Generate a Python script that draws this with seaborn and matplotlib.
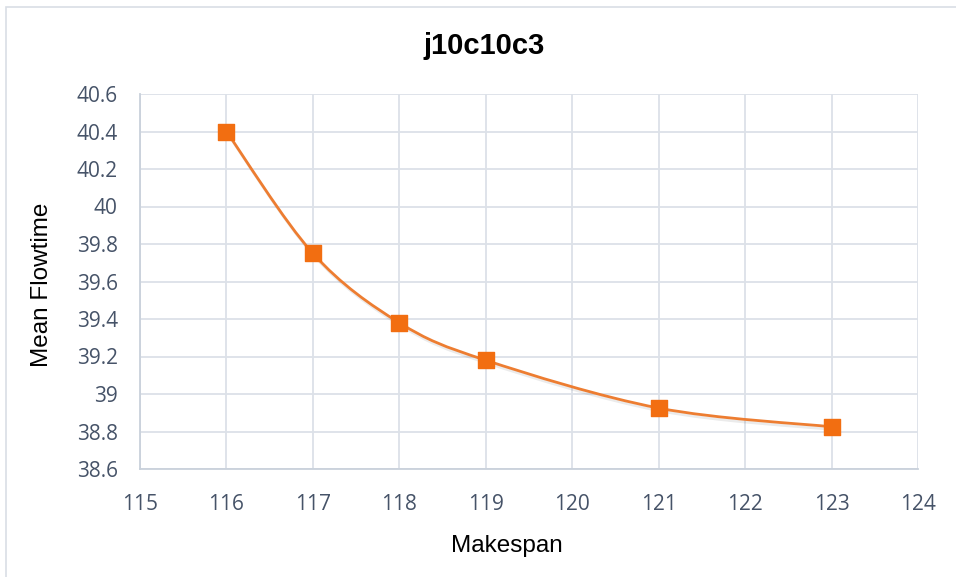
import numpy as np
import pandas as pd
import matplotlib
matplotlib.use("Agg")
import matplotlib.pyplot as plt
from matplotlib.path import Path
from matplotlib.patches import PathPatch, Rectangle
import matplotlib.patheffects as pe
import seaborn as sns

# Series data
makespan = [116, 117, 118, 119, 121, 123]
mean_flowtime = [40.40, 39.75, 39.38, 39.18, 38.925, 38.825]

x_ticks = [115, 116, 117, 118, 119, 120, 121, 122, 123, 124]
y_ticks = [38.6, 38.8, 39.0, 39.2, 39.4, 39.6, 39.8, 40.0, 40.2, 40.4, 40.6]
y_tick_labels = ["38.6", "38.8", "39", "39.2", "39.4", "39.6", "39.8", "40", "40.2", "40.4", "40.6"]

title = "j10c10c3"
x_label = "Makespan"
y_label = "Mean Flowtime"

df = pd.DataFrame({"Makespan": makespan, "Mean Flowtime": mean_flowtime})

sns.set_theme(style="white")
plt.rcParams["font.family"] = ["Liberation Sans", "DejaVu Sans"]

line_color = "#ED7D31"
marker_color = "#F26E11"
tick_color = "#465368"
grid_color = "#DCE1E8"

fig = plt.figure(figsize=(9.56, 5.77), dpi=100)
fig.patch.set_facecolor("white")

# chart frame
fig.patches.append(Rectangle((6 / 956, -0.05), 1.2, 1 - 7 / 577 + 0.05,
                             transform=fig.transFigure, fill=False,
                             edgecolor="#D9DEE5", linewidth=1.2, zorder=0))

ax = fig.add_axes([140 / 956, 1 - 469 / 577, (918 - 140) / 956, (469 - 94) / 577])

# Smoothed connector (cardinal Bezier through the points)
xs = np.array(makespan, dtype=float)
ys = np.array(mean_flowtime, dtype=float)
n = len(xs)
verts = [(xs[0], ys[0])]
codes = [Path.MOVETO]
t = 1 / 6
for i in range(n - 1):
    p0 = (xs[max(i - 1, 0)], ys[max(i - 1, 0)])
    p1 = (xs[i], ys[i])
    p2 = (xs[i + 1], ys[i + 1])
    p3 = (xs[min(i + 2, n - 1)], ys[min(i + 2, n - 1)])
    c1 = (p1[0] + (p2[0] - p0[0]) * t, p1[1] + (p2[1] - p0[1]) * t)
    c2 = (p2[0] - (p3[0] - p1[0]) * t, p2[1] - (p3[1] - p1[1]) * t)
    verts += [c1, c2, p2]
    codes += [Path.CURVE4] * 3
curve = PathPatch(Path(verts, codes), facecolor="none", edgecolor=line_color,
                  linewidth=2.0, zorder=3, capstyle="round",
                  path_effects=[pe.SimpleLineShadow(offset=(1, -2), shadow_color="#000000", alpha=0.08, rho=1),
                                pe.Normal()])
ax.add_patch(curve)

sns.scatterplot(data=df, x="Makespan", y="Mean Flowtime", ax=ax, marker="s", s=125,
                color=marker_color, edgecolor=marker_color, linewidth=1.0, zorder=4,
                legend=False)

ax.set_xlim(115, 124)
ax.set_ylim(38.6, 40.6)
ax.set_xticks(x_ticks)
ax.set_xticklabels([str(v) for v in x_ticks])
ax.set_yticks(y_ticks)
ax.set_yticklabels(y_tick_labels)

ax.grid(True, color=grid_color, linewidth=1.3)
ax.set_axisbelow(True)
for side in ["top", "right"]:
    ax.spines[side].set_visible(False)
for side in ["left", "bottom"]:
    ax.spines[side].set_color("#C9D1DB")
    ax.spines[side].set_linewidth(1.3)

ax.tick_params(axis="both", length=0, colors=tick_color, labelsize=15)
ax.tick_params(axis="y", pad=16)
ax.tick_params(axis="x", pad=18)
for lab in ax.get_xticklabels() + ax.get_yticklabels():
    lab.set_fontfamily(["Open Sans", "DejaVu Sans"])

ax.set_xlabel(x_label, fontsize=17.5, color="black")
ax.set_ylabel(y_label, fontsize=17.5, color="black")
ax.xaxis.set_label_coords((507 - 140) / 778, -(546 - 469) / 375, transform=ax.transAxes)
ax.xaxis.label.set_va("center")
ax.yaxis.set_label_coords(-(140 - 42) / 778, (469 - 285) / 375, transform=ax.transAxes)
ax.yaxis.label.set_va("center")

fig.text(484 / 956, 1 - 46 / 577, title, ha="center", va="center",
         fontsize=21, fontweight="bold", color="black")

fig.savefig("out.png", dpi=100, facecolor="white")
